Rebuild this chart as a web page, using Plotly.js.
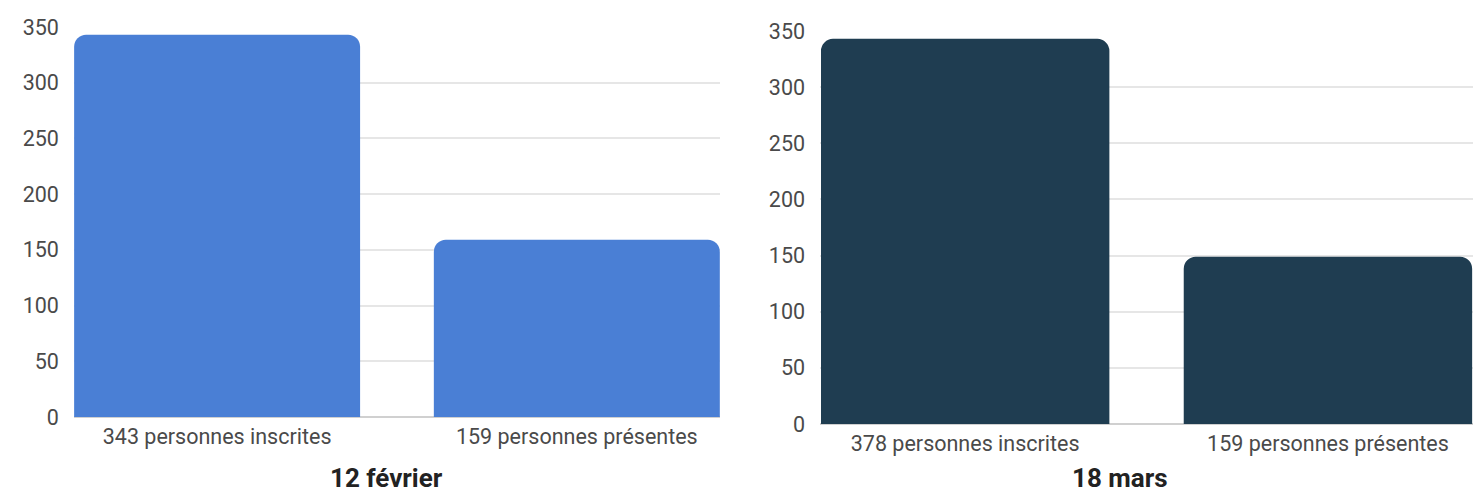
<!DOCTYPE html>
<html>
<head>
<meta charset="utf-8">
<script src="https://cdn.plot.ly/plotly-3.0.1.min.js"></script>
<style>html,body{margin:0;padding:0;background:#fff;}#chart{width:1476px;height:493px;}</style>
</head>
<body>
<div id="chart"></div>
<script>
// Data
const categoriesFeb = ["343 personnes inscrites", "159 personnes présentes"];
const valuesFeb = [343, 159];
const categoriesMar = ["378 personnes inscrites", "159 personnes présentes"];
const valuesMar = [343, 149];
const chartTitles = ["12 février", "18 mars"];
const yTicks = [0, 50, 100, 150, 200, 250, 300, 350];

const tickFont = {family: "Roboto, 'Noto Sans', sans-serif", size: 21.5, color: "#4a4a4a"};

const traces = [
  {type: "bar", x: categoriesFeb, y: valuesFeb, xaxis: "x", yaxis: "y",
   marker: {color: "#4A7FD5", cornerradius: 12}, hoverinfo: "x+y", showlegend: false},
  {type: "bar", x: categoriesMar, y: valuesMar, xaxis: "x2", yaxis: "y2",
   marker: {color: "#1F3D51", cornerradius: 12}, hoverinfo: "x+y", showlegend: false}
];

function yax(domain, anchor) {
  return {domain: domain, anchor: anchor, range: [0, 350], tickvals: yTicks, ticktext: yTicks.map(String),
    showgrid: true, gridcolor: "#e6e6e6", gridwidth: 2, zeroline: true, zerolinecolor: "#d0d0d0",
    zerolinewidth: 2, showline: false, ticks: "", tickfont: tickFont, ticklabelstandoff: 14, fixedrange: true};
}
function xax(domain, anchor) {
  return {domain: domain, anchor: anchor, type: "category", range: [-0.398, 1.398],
    showgrid: false, showline: false, ticks: "", tickfont: tickFont, ticklabelstandoff: 5, fixedrange: true};
}

const layout = {
  width: 1476, height: 493,
  margin: {l: 0, r: 0, t: 0, b: 0},
  paper_bgcolor: "#ffffff", plot_bgcolor: "#ffffff",
  bargap: 0.205,
  xaxis: xax([0.0501, 0.4878], "y"),
  yaxis: yax([0.1542, 0.9452], "x"),
  xaxis2: xax([0.5556, 0.998], "y2"),
  yaxis2: yax([0.1400, 0.9371], "x2"),
  annotations: [
    {text: "<b>" + chartTitles[0] + "</b>", xref: "paper", yref: "paper", x: 0.2618, y: 0.0304,
     xanchor: "center", yanchor: "middle", showarrow: false,
     font: {family: "Roboto, sans-serif", size: 26, color: "#222"}},
    {text: "<b>" + chartTitles[1] + "</b>", xref: "paper", yref: "paper", x: 0.7588, y: 0.0304,
     xanchor: "center", yanchor: "middle", showarrow: false,
     font: {family: "Roboto, sans-serif", size: 26, color: "#222"}}
  ]
};
layout.xaxis2.range = [-0.4, 1.4];

Plotly.newPlot("chart", traces, layout, {displayModeBar: false, staticPlot: true});
</script>
</body>
</html>
